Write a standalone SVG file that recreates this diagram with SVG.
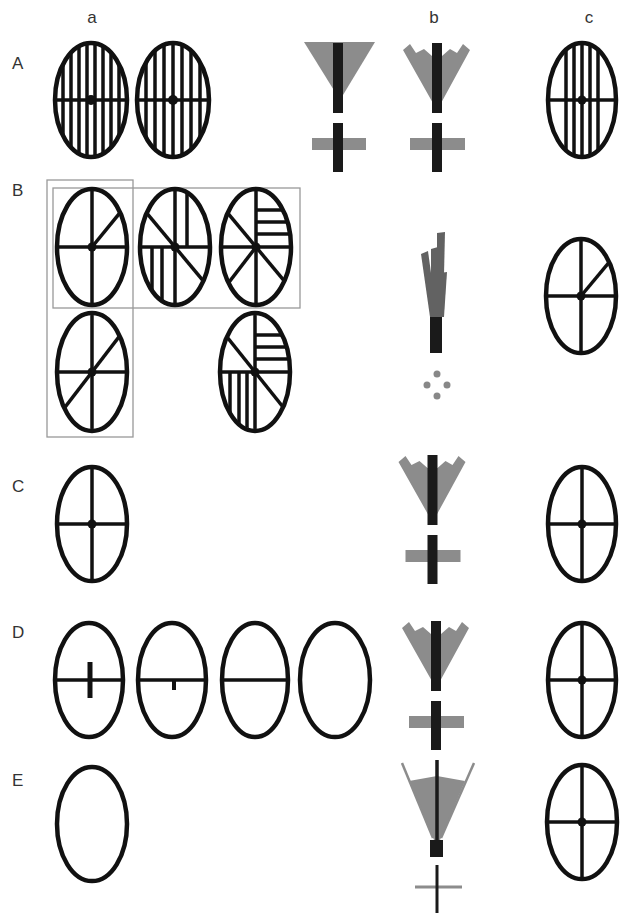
<svg xmlns="http://www.w3.org/2000/svg" width="623" height="915" viewBox="0 0 623 915">
<style>
text{font-family:"Liberation Sans",Arial,sans-serif;font-size:17px;fill:#333}
.ov{fill:none;stroke:#111;stroke-width:4.5}
.ln{stroke:#111;stroke-width:3.5;fill:none}
.dot{fill:#111}
.box{fill:none;stroke:#999;stroke-width:1.3}
.g{fill:#8c8c8c}
.k{fill:#1a1a1a}
.dg{fill:#626262}
</style>
<defs>
<clipPath id="ec" clipPathUnits="userSpaceOnUse"><ellipse cx="0" cy="0" rx="35" ry="57"/></clipPath>
<g id="cross"><g clip-path="url(#ec)"><line class="ln" x1="0" y1="-60" x2="0" y2="60"/><line class="ln" x1="-40" y1="0" x2="40" y2="0"/></g><circle class="dot" cx="0" cy="0" r="4.5"/></g>
<g id="vfan"><polygon class="g" points="-34,7 -27,1 -21,10 -13,6 -5,13 5,13 13,6 20,10 26,1 33,7 3,62 -3,62"/><rect class="k" x="-5" y="0" width="10" height="70"/><rect class="g" x="-27" y="95" width="55" height="12"/><rect class="k" x="-5" y="80" width="10" height="49"/></g>
</defs>
<g id="labels">
<text x="92" y="23" text-anchor="middle">a</text>
<text x="434" y="23" text-anchor="middle">b</text>
<text x="589" y="23" text-anchor="middle">c</text>
<text x="12" y="69">A</text>
<text x="12" y="196">B</text>
<text x="12" y="492">C</text>
<text x="12" y="638">D</text>
<text x="12" y="786">E</text>
</g>
<g id="boxes">
<rect class="box" x="47" y="180" width="86" height="257"/>
<rect class="box" x="53" y="188" width="247" height="120"/>
</g>
<g id="A-a1" transform="translate(91,100)">
<g clip-path="url(#ec)"><g class="ln"><line x1="-28" y1="-60" x2="-28" y2="60"/><line x1="-20" y1="-60" x2="-20" y2="60"/><line x1="-12" y1="-60" x2="-12" y2="60"/><line x1="-4" y1="-60" x2="-4" y2="60"/><line x1="4" y1="-60" x2="4" y2="60"/><line x1="12" y1="-60" x2="12" y2="60"/><line x1="20" y1="-60" x2="20" y2="60"/><line x1="28" y1="-60" x2="28" y2="60"/><line x1="-40" y1="0" x2="40" y2="0"/></g></g>
<circle class="dot" r="5"/><ellipse class="ov" rx="36" ry="57"/>
</g>
<g id="A-a2" transform="translate(173,100)">
<g clip-path="url(#ec)"><g class="ln"><line x1="-27" y1="-60" x2="-27" y2="60"/><line x1="-18" y1="-60" x2="-18" y2="60"/><line x1="-9" y1="-60" x2="-9" y2="60"/><line x1="0" y1="-60" x2="0" y2="60"/><line x1="9" y1="-60" x2="9" y2="60"/><line x1="18" y1="-60" x2="18" y2="60"/><line x1="27" y1="-60" x2="27" y2="60"/><line x1="-40" y1="0" x2="40" y2="0"/></g></g>
<circle class="dot" r="5"/><ellipse class="ov" rx="36" ry="57"/>
</g>
<g id="A-b1">
<polygon class="g" points="304,42 375,42 340,100"/>
<rect class="k" x="333" y="43" width="10" height="70"/>
<rect class="g" x="312" y="138" width="54" height="12"/>
<rect class="k" x="333" y="123" width="10" height="49"/>
</g>
<g id="A-b2"><use href="#vfan" transform="translate(437,43)"/></g>
<g id="A-c" transform="translate(582,100)">
<g clip-path="url(#ec)"><g class="ln"><line x1="-16" y1="-60" x2="-16" y2="60"/><line x1="-8" y1="-60" x2="-8" y2="60"/><line x1="0" y1="-60" x2="0" y2="60"/><line x1="8" y1="-60" x2="8" y2="60"/><line x1="16" y1="-60" x2="16" y2="60"/><line x1="-40" y1="0" x2="40" y2="0"/></g></g>
<circle class="dot" r="4.5"/><ellipse class="ov" rx="34" ry="57"/>
</g>
<g id="B-a1" transform="translate(92,247)">
<use href="#cross"/><g clip-path="url(#ec)"><line class="ln" x1="0" y1="0" x2="40" y2="-49"/></g>
<ellipse class="ov" rx="35" ry="58"/>
</g>
<g id="B-a2" transform="translate(175,247)">
<use href="#cross"/><g clip-path="url(#ec)" class="ln"><line x1="-50" y1="-60" x2="50" y2="60"/><line x1="12" y1="-60" x2="12" y2="0"/><line x1="-23" y1="0" x2="-23" y2="60"/><line x1="-13" y1="0" x2="-13" y2="60"/></g>
<ellipse class="ov" rx="35" ry="58"/>
</g>
<g id="B-a3" transform="translate(256,247)">
<use href="#cross"/><g clip-path="url(#ec)" class="ln"><line x1="-50" y1="-60" x2="50" y2="60"/><line x1="0" y1="0" x2="-46" y2="60"/><line x1="0" y1="-37" x2="40" y2="-37"/><line x1="0" y1="-25" x2="40" y2="-25"/><line x1="0" y1="-13" x2="40" y2="-13"/></g>
<ellipse class="ov" rx="35" ry="58"/>
</g>
<g id="B-a4" transform="translate(92,372)">
<use href="#cross"/><g clip-path="url(#ec)"><line class="ln" x1="-46" y1="60" x2="46" y2="-60"/></g>
<ellipse class="ov" rx="35" ry="59"/>
</g>
<g id="B-a5" transform="translate(255,372)">
<use href="#cross"/><g clip-path="url(#ec)" class="ln"><line x1="-48" y1="-60" x2="48" y2="60"/><line x1="0" y1="-37" x2="40" y2="-37"/><line x1="0" y1="-25" x2="40" y2="-25"/><line x1="0" y1="-13" x2="40" y2="-13"/><line x1="-25" y1="0" x2="-25" y2="60"/><line x1="-16" y1="0" x2="-16" y2="60"/><line x1="-8" y1="0" x2="-8" y2="60"/></g>
<ellipse class="ov" rx="35" ry="59"/>
</g>
<g id="B-b">
<polygon class="dg" points="421,254 428,251 437,317 430,317"/>
<polygon class="dg" points="431,249 438,247 438,317 431,317"/>
<polygon class="dg" points="437,233 445,232 443,317 437,317"/>
<polygon class="dg" points="440,273 447,272 444,317 440,317"/>
<rect class="k" x="430" y="317" width="12" height="36"/>
<g fill="#888"><circle cx="437" cy="374" r="3.5"/><circle cx="427" cy="385" r="3.5"/><circle cx="447" cy="385" r="3.5"/><circle cx="437" cy="396" r="3.5"/></g>
</g>
<g id="B-c" transform="translate(581,296)">
<use href="#cross"/><g clip-path="url(#ec)"><line class="ln" x1="0" y1="0" x2="40" y2="-48"/></g>
<ellipse class="ov" rx="35" ry="57"/>
</g>
<g id="C-a" transform="translate(92,524)"><use href="#cross"/><ellipse class="ov" rx="35" ry="57"/></g>
<g id="C-b"><use href="#vfan" transform="translate(432.5,455)"/></g>
<g id="C-c" transform="translate(582,524)"><use href="#cross"/><ellipse class="ov" rx="34" ry="57"/></g>
<g id="D-a1" transform="translate(89,680)">
<line class="ln" x1="-35" y1="0" x2="35" y2="0"/><line x1="1" y1="-18" x2="1" y2="18" stroke="#111" stroke-width="5"/>
<ellipse class="ov" rx="34" ry="57"/>
</g>
<g id="D-a2" transform="translate(172,680)">
<line class="ln" x1="-35" y1="0" x2="35" y2="0"/><line x1="2" y1="0" x2="2" y2="10" stroke="#111" stroke-width="4"/>
<ellipse class="ov" rx="34" ry="57"/>
</g>
<g id="D-a3" transform="translate(255,680)">
<line class="ln" x1="-34" y1="0" x2="34" y2="0"/>
<ellipse class="ov" rx="33" ry="57"/>
</g>
<g id="D-a4" transform="translate(335,680)"><ellipse class="ov" rx="35" ry="57"/></g>
<g id="D-b"><use href="#vfan" transform="translate(436,621)"/></g>
<g id="D-c" transform="translate(582,680)"><use href="#cross"/><ellipse class="ov" rx="34" ry="57"/></g>
<g id="E-a" transform="translate(92,824)"><ellipse class="ov" rx="35" ry="57"/></g>
<g id="E-b">
<polygon class="g" points="409,781 437,776 465,781 440,840 434,840"/>
<line x1="402" y1="763" x2="433" y2="838" stroke="#8c8c8c" stroke-width="2.5"/>
<line x1="474" y1="763" x2="441" y2="838" stroke="#8c8c8c" stroke-width="2.5"/>
<line x1="437" y1="760" x2="437" y2="843" stroke="#1a1a1a" stroke-width="3.5"/>
<rect class="k" x="430" y="840" width="13" height="17"/>
<line x1="415" y1="887" x2="462" y2="887" stroke="#8c8c8c" stroke-width="3"/>
<line x1="437" y1="865" x2="437" y2="913" stroke="#1a1a1a" stroke-width="3"/>
</g>
<g id="E-c" transform="translate(582,822)"><use href="#cross"/><ellipse class="ov" rx="35" ry="57"/></g>
</svg>
